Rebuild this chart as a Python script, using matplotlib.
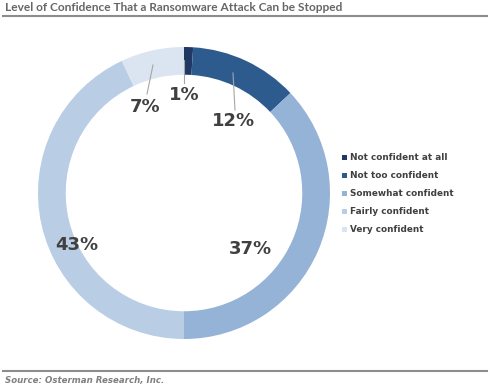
import matplotlib
matplotlib.use("Agg")
import matplotlib.pyplot as plt
from matplotlib.patches import Rectangle
from matplotlib.lines import Line2D

categories = ["Not confident at all", "Not too confident", "Somewhat confident",
              "Fairly confident", "Very confident"]
values = [1, 12, 37, 43, 7]
labels = ["1%", "12%", "37%", "43%", "7%"]
colors = ["#1f3864", "#2e5b8e", "#95b3d7", "#b9cde5", "#dbe5f1"]

W, H = 497, 389
fig = plt.figure(figsize=(W / 100, H / 100), dpi=100)
fig.patch.set_facecolor("white")

cx, cy, R = 184, 193, 146
ax = fig.add_axes([(cx - R) / W, (H - cy - R) / H, 2 * R / W, 2 * R / H])
wedges, _ = ax.pie(values, colors=colors, startangle=90, counterclock=False,
                   radius=1.0, wedgeprops=dict(width=0.19, edgecolor="none"))
ax.set_xlim(-1, 1)
ax.set_ylim(-1, 1)
ax.axis("off")

def d(px, py):
    return ((px - cx) / R, (cy - py) / R)

label_pos = [d(184, 95), d(234, 121), d(250, 249), d(77, 245), d(145, 107)]
for txt, (x, y) in zip(labels, label_pos):
    ax.text(x, y, txt, ha="center", va="center", fontsize=13, fontweight="bold",
            color="#404040")

leaders = [((184, 60), (184, 83)), ((233, 73), (235, 110)), ((153, 65), (147, 94))]
for p0, p1 in leaders:
    a, b = d(*p0), d(*p1)
    ax.plot([a[0], b[0]], [a[1], b[1]], color="#a6a6a6", lw=0.8)

# Title and rules
fig.text(5 / W, 1 - 7.5 / H, "Level of Confidence That a Ransomware Attack Can be Stopped",
         ha="left", va="center", fontsize=8.6, fontweight="bold", family="Lato",
         color="#666666")
fig.add_artist(Line2D([3 / W, 487 / W], [1 - 16 / H, 1 - 16 / H], color="#8c8c8c", lw=1.5))
fig.add_artist(Line2D([3 / W, 487 / W], [1 - 371 / H, 1 - 371 / H], color="#8c8c8c", lw=1.5))
fig.text(5 / W, 1 - 380.5 / H, "Source: Osterman Research, Inc.", ha="left", va="center",
         fontsize=6.2, fontstyle="italic", fontweight="bold", color="#7f7f7f")

# Legend
for i, (cat, col) in enumerate(zip(categories, colors)):
    y = 157 + 18 * i
    fig.add_artist(Rectangle((342 / W, 1 - (y + 2.5) / H), 5 / W, 5 / H,
                             facecolor=col, edgecolor="none", transform=fig.transFigure))
    fig.text(350 / W, 1 - y / H, cat, ha="left", va="center", fontsize=6.4,
             fontweight="bold", color="#404040")

fig.savefig("out.png", dpi=100)
